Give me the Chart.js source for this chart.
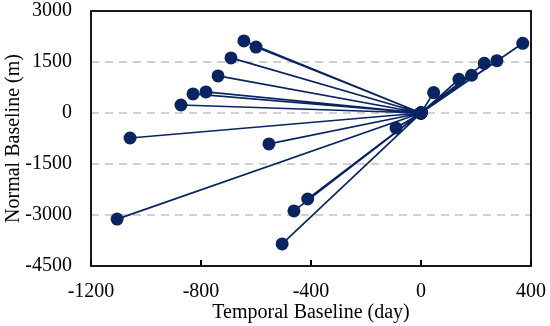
<!DOCTYPE html>
<html>
<head>
<meta charset="utf-8">
<script src="https://cdn.jsdelivr.net/npm/chart.js@4.4.1/dist/chart.umd.min.js"></script>
<style>
html,body{margin:0;padding:0;background:#fff;}
#wrap{width:550px;height:326px;}
</style>
</head>
<body>
<div id="wrap"><canvas id="c" width="550" height="326"></canvas></div>
<script>
// Temporal baseline (days) and normal baseline (m) of each interferogram, relative to master (0,0)
const temporalBaseline = [-644, -600, -691, -738, -782, -829, -873, -1058, -553, -1105, -505, -462, -412, -91, 46, 138, 184, 230, 276, 370];
const normalBaseline   = [2120, 1940, 1620, 1090, 620, 560, 235, -735, -910, -3120, -3850, -2880, -2530, -440, 600, 990, 1110, 1460, 1540, 2050];
const master = {x: 0, y: 0};
const xTicks = [-1200, -800, -400, 0, 400];
const yTicks = [-4500, -3000, -1500, 0, 1500, 3000];

const starData = [];
temporalBaseline.forEach((t, i) => {
  starData.push({x: t, y: normalBaseline[i]});
  starData.push(master);
});

const navy = '#0a2461';
const FONT = "'Liberation Serif', 'Times New Roman', serif";

const innerTicks = {
  id: 'innerTicks',
  afterDatasetsDraw(chart) {
    const ctx = chart.ctx, xs = chart.scales.x, a = chart.chartArea;
    ctx.save();
    ctx.strokeStyle = '#000';
    ctx.lineWidth = 2;
    ctx.beginPath();
    xTicks.forEach(v => {
      const px = Math.round(xs.getPixelForValue(v));
      ctx.moveTo(px, a.bottom);
      ctx.lineTo(px, a.bottom - 6);
    });
    ctx.stroke();
    ctx.lineWidth = 1.8;
    ctx.strokeRect(a.left, a.top, a.right - a.left, a.bottom - a.top);
    ctx.restore();
  }
};

new Chart(document.getElementById('c'), {
  type: 'scatter',
  data: {
    datasets: [{
      data: starData,
      showLine: true,
      borderColor: navy,
      borderWidth: 1.7,
      backgroundColor: navy,
      pointBackgroundColor: navy,
      pointBorderColor: navy,
      pointRadius: 6.5,
      pointBorderWidth: 0
    }]
  },
  options: {
    responsive: false,
    animation: false,
    layout: {padding: {left: 2, right: 19, top: 11, bottom: 0}},
    plugins: {legend: {display: false}, tooltip: {enabled: false}},
    scales: {
      x: {
        type: 'linear', min: -1200, max: 400,
        afterBuildTicks(s) { s.ticks = xTicks.map(v => ({value: v})); },
        afterFit(s) { s.height = 60; s.paddingLeft = 0; s.paddingRight = 0; },
        grid: {display: false, drawTicks: false},
        border: {display: false},
        ticks: {color: '#000', font: {family: FONT, size: 20}, padding: 14, maxRotation: 0, callback: v => String(v)},
        title: {display: true, text: 'Temporal Baseline (day)', color: '#000', font: {family: FONT, size: 20}, padding: {top: 0, bottom: 1}}
      },
      y: {
        type: 'linear', min: -4500, max: 3000,
        afterBuildTicks(s) { s.ticks = yTicks.map(v => ({value: v})); },
        afterFit(s) { s.width = 89; s.paddingTop = 0; s.paddingBottom = 0; },
        grid: {
          drawTicks: false,
          lineWidth: 2,
          color: c => (c.tick && (c.tick.value === 3000 || c.tick.value === -4500)) ? 'rgba(0,0,0,0)' : '#d0d0d0'
        },
        border: {display: false, dash: [8, 6]},
        ticks: {color: '#000', font: {family: FONT, size: 20}, padding: 19, callback: v => String(v)},
        title: {display: true, text: 'Normal Baseline (m)', color: '#000', font: {family: FONT, size: 20}, padding: {top: 0, bottom: 2}}
      }
    }
  },
  plugins: [innerTicks]
});
</script>
</body>
</html>
